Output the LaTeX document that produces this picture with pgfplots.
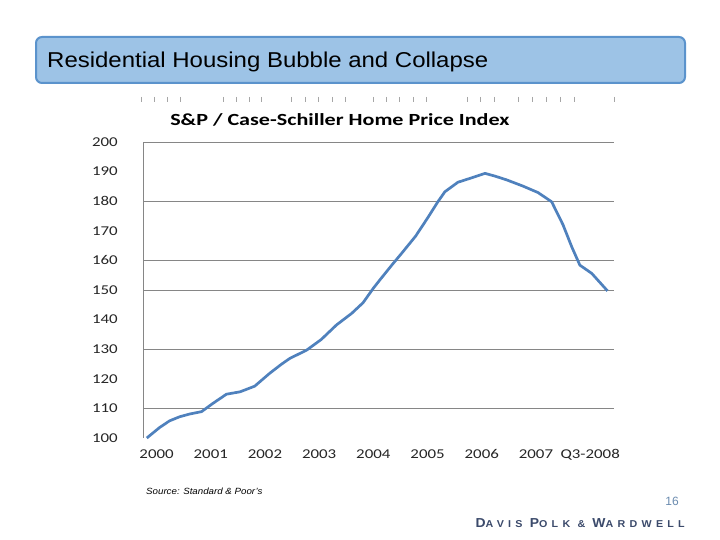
\documentclass[border=0pt]{standalone}
\usepackage{fontspec}
\setmainfont{Liberation Sans}
\newfontfamily\carlito{Carlito}
\usepackage{pgfplots}
\pgfplotsset{compat=1.18}
\definecolor{boxfill}{HTML}{9DC3E6}
\definecolor{boxedge}{HTML}{5B93CC}
\definecolor{line}{HTML}{4F81BD}
\definecolor{gridc}{HTML}{868686}
\definecolor{dpw}{HTML}{3B4A6B}
\definecolor{pagenum}{HTML}{6A8BAF}
\pgfplotstableread{
x y
2000.00 100.0
2000.24 103.6
2000.42 105.8
2000.61 107.2
2000.79 108.1
2001.01 108.9
2001.22 111.7
2001.47 114.8
2001.72 115.6
2001.99 117.5
2002.27 121.9
2002.49 125.0
2002.64 126.9
2002.95 129.7
2003.22 133.3
2003.50 138.2
2003.78 142.1
2003.99 145.7
2004.18 150.6
2004.30 153.4
2004.52 158.4
2004.72 162.8
2004.96 168.2
2005.18 174.3
2005.37 179.8
2005.50 183.2
2005.74 186.4
2005.96 187.7
2006.24 189.4
2006.42 188.5
2006.64 187.2
2006.94 185.1
2007.22 182.9
2007.47 179.8
2007.68 172.0
2007.84 164.6
2007.99 158.4
2008.21 155.6
2008.50 149.7
}\hpi
\begin{document}
\begin{tikzpicture}[x=1pt,y=1pt]
\fill[white] (0,0) rectangle (720,-540);
% title box
\draw[rounded corners=6pt, fill=boxfill, draw=boxedge, line width=2pt] (36,-37) rectangle (685,-83);
\node[anchor=base west, inner sep=0pt, xscale=1.115, font=\fontsize{21.5}{21.5}\selectfont] at (47,-68) {Residential Housing Bubble and Collapse};
% decorative tick row
\foreach \px in {141.2,154.3,167.4,180.5, 223.3,236.1,248.9,261.7, 291.7,305.1,318.4,331.8,345.1, 372.9,386.3,399.6,413.0,426.3, 467.0,480.5,493.9, 518.3,532.2,546.0,559.9,573.8, 614.5}
  \draw[gray!70, line width=0.6pt] (\px,-97) -- (\px,-102);
% chart title
\node[anchor=base west, inner sep=0pt, xscale=1.3, font=\carlito\bfseries\fontsize{17}{17}\selectfont] at (170,-126) {S\&P / Case-Schiller Home Price Index};
\begin{axis}[
  at={(143pt,-438pt)}, anchor=south west,
  scale only axis, width=471pt, height=296pt,
  xmin=1999.93, xmax=2008.62, ymin=100, ymax=200,
  axis lines*=left,
  x axis line style={draw=none},
  y axis line style={draw=gridc, line width=0.8pt},
  ytick={100,110,...,200},
  xtick={2000.18,2001.18,2002.18,2003.18,2004.18,2005.18,2006.18,2007.18,2008.18},
  xticklabels={2000,2001,2002,2003,2004,2005,2006,2007,Q3-2008},
  major tick length=0pt,
  /pgf/number format/assume math mode=true,
  /pgf/number format/1000 sep={},
  ticklabel style={font=\carlito\fontsize{13.5}{13.5}\selectfont, text=black!85, xscale=1.25, inner sep=0pt},
  yticklabel style={anchor=east, xshift=-20pt},
  xticklabel style={anchor=base, yshift=-20pt},
  extra y ticks={110,130,150,160,180,200},
  extra y tick labels={},
  extra y tick style={grid=major, major grid style={draw=gridc, line width=0.8pt}},
  clip=false,
]
\addplot[line, line width=2.7pt, line join=round] table[x=x,y=y] {\hpi};
\end{axis}
% footer
\node[anchor=base west, inner sep=0pt, xscale=1.08, font=\itshape\fontsize{9}{9}\selectfont] at (146,-494) {Source: Standard \& Poor's};
\node[anchor=base east, inner sep=0pt, font=\fontsize{12}{12}\selectfont, text=pagenum] at (679,-505) {16};
\node[anchor=base east, inner sep=0pt, text=dpw, xscale=1.07, font=\bfseries\addfontfeatures{LetterSpace=40}] at (685,-527)
 {\fontsize{13}{13}\selectfont D\fontsize{10}{10}\selectfont AVIS \fontsize{13}{13}\selectfont P\fontsize{10}{10}\selectfont OLK \& \fontsize{13}{13}\selectfont W\fontsize{10}{10}\selectfont ARDWELL};
\end{tikzpicture}
\end{document}
